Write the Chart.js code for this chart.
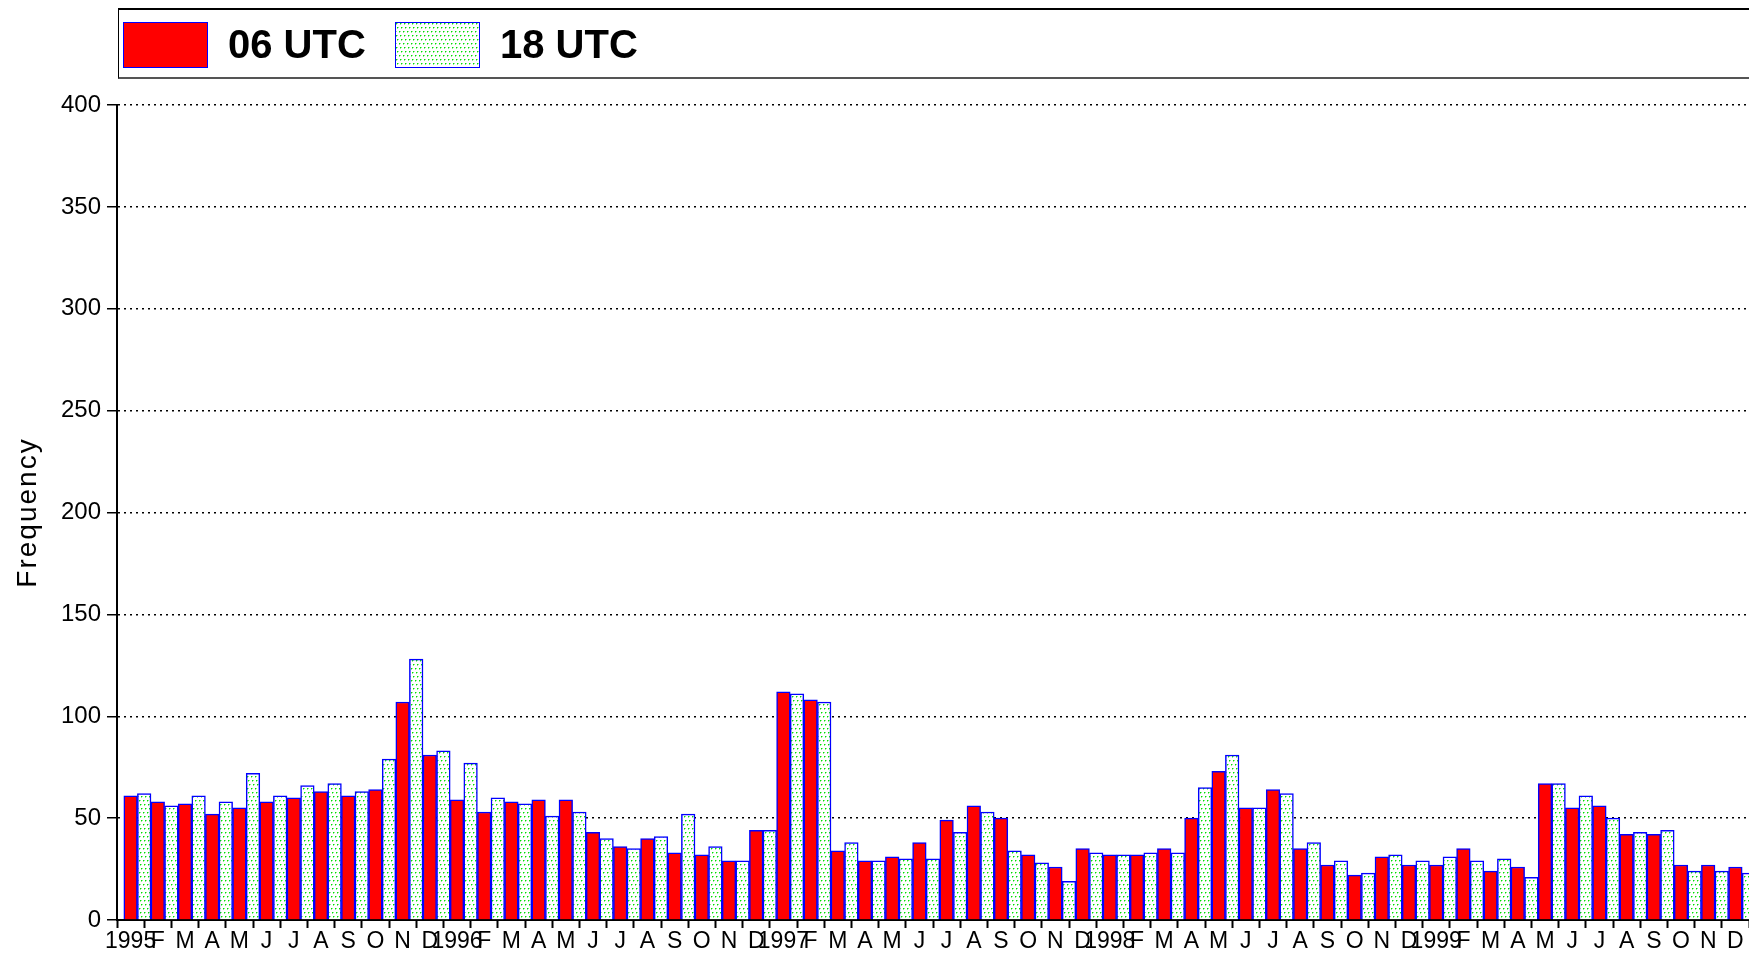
<!DOCTYPE html>
<html>
<head>
<meta charset="utf-8">
<title>06 / 18 UTC frequency</title>
<script src="https://cdn.jsdelivr.net/npm/chart.js@4/dist/chart.umd.min.js"></script>
<style>
  html, body { margin: 0; padding: 0; background: #fff; overflow: hidden; }
  #wrap { position: relative; width: 1749px; height: 956px; font-family: "Liberation Sans", Arial, sans-serif; }
  #chartBox { position: absolute; left: 0; top: 0; width: 1749px; height: 956px; }
  #legend {
    position: absolute; left: 118px; top: 8px; width: 1630px; height: 67px;
    border-top: 2px solid #000; border-left: 1.5px solid #000;
    border-bottom: 2.5px solid #555; border-right: 1px solid #ccc;
    box-sizing: content-box;
  }
  .item { position: absolute; top: 11px; height: 47px; display: flex; align-items: center; }
  .swatch { width: 83px; height: 44px; border: 1.5px solid #0000ff; margin-right: 20px; }
  .label { font-weight: bold; font-size: 40px; color: #000; line-height: 47px; }
</style>
</head>
<body>
<div id="wrap">
  <div id="chartBox"><canvas id="freqChart"></canvas></div>
  <div id="legend">
    <div class="item" style="left: 4px;"><span class="swatch" id="sw06"></span><span class="label">06 UTC</span></div>
    <div class="item" style="left: 276px;"><span class="swatch" id="sw18"></span><span class="label">18 UTC</span></div>
  </div>
</div>
<script>
// Data: monthly counts, Jan 1995 - Dec 1999
const years = [1995, 1996, 1997, 1998, 1999];
const monthInitials = ['J', 'F', 'M', 'A', 'M', 'J', 'J', 'A', 'S', 'O', 'N', 'D'];

const utc06 = [
    61, 58, 57, 52, 55, 58, 60, 63, 61, 64, 107, 81,
    59, 53, 58, 59, 59, 43, 36, 40, 33, 32, 29, 44,
    112, 108, 34, 29, 31, 38, 49, 56, 50, 32, 26, 35,
    32, 32, 35, 50, 73, 55, 64, 35, 27, 22, 31, 27,
    27, 35, 24, 26, 67, 55, 56, 42, 42, 27, 27, 26
];
const utc18 = [
    62, 56, 61, 58, 72, 61, 66, 67, 63, 79, 128, 83,
    77, 60, 57, 51, 53, 40, 35, 41, 52, 36, 29, 44,
    111, 107, 38, 29, 30, 30, 43, 53, 34, 28, 19, 33,
    32, 33, 33, 65, 81, 55, 62, 38, 29, 23, 32, 29,
    31, 29, 30, 21, 67, 61, 50, 43, 44, 24, 24, 23
];

const yTicks = [0, 50, 100, 150, 200, 250, 300, 350, 400];

// year at January, month initial otherwise
const xLabels = [];
years.forEach(y => monthInitials.forEach((m, i) => xLabels.push(i === 0 ? String(y) : m)));

// Half-month slots: even slots are month boundaries (tick marks, 18 UTC bars),
// odd slots are month centres (labels, 06 UTC bars).
const slotLabels = [''];
xLabels.forEach(l => slotLabels.push(l, ''));
const slots06 = slotLabels.map((_, k) => k % 2 === 1 ? utc06[(k - 1) / 2] : null);
const slots18 = slotLabels.map((_, k) => k > 0 && k % 2 === 0 ? utc18[k / 2 - 1] : null);

const FONT = '"Liberation Sans", Arial, sans-serif';

// green dotted fill for the 18 UTC bars
const tile = document.createElement('canvas');
tile.width = 4;
tile.height = 12;
const tctx = tile.getContext('2d');
tctx.fillStyle = '#fff';
tctx.fillRect(0, 0, 4, 12);
[[0, 0], [1, 4], [3, 8]].forEach(([x, y]) => {
    tctx.fillStyle = '#00e000';
    tctx.fillRect(x, y, 1, 1);
    tctx.fillStyle = '#8fef8f';
    tctx.fillRect((x + 1) % 4, y, 1, 1);
    tctx.fillRect(x, y + 1, 1, 1);
});

const ctx = document.getElementById('freqChart').getContext('2d');
const dots = ctx.createPattern(tile, 'repeat');

document.getElementById('sw06').style.background = '#ff0000';
document.getElementById('sw18').style.background = `url(${tile.toDataURL()})`;

// rotated, letter-spaced axis title
const yTitle = {
    id: 'yTitle',
    afterDraw(chart) {
        const c = chart.ctx;
        const area = chart.chartArea;
        c.save();
        c.translate(36, (area.top + area.bottom) / 2);
        c.rotate(-Math.PI / 2);
        c.font = '28px ' + FONT;
        c.letterSpacing = '2px';
        c.fillStyle = '#000';
        c.textAlign = 'center';
        c.fillText('Frequency', 0, 0);
        c.restore();
    }
};

new Chart(ctx, {
    type: 'bar',
    data: {
        labels: slotLabels,
        datasets: [{
            label: '06 UTC',
            data: slots06,
            backgroundColor: '#ff0000',
            borderColor: '#0000ff',
            borderWidth: 1.5,
            grouped: false,
            barThickness: 13.6
        }, {
            label: '18 UTC',
            data: slots18,
            backgroundColor: dots,
            borderColor: '#0000ff',
            borderWidth: 1.5,
            grouped: false,
            barThickness: 13.6
        }]
    },
    options: {
        responsive: true,
        maintainAspectRatio: false,
        animation: false,
        layout: { padding: { top: 105, left: 0, right: 0, bottom: 0 } },
        plugins: {
            legend: { display: false },
            tooltip: { enabled: false }
        },
        scales: {
            x: {
                type: 'category',
                offset: false,
                grid: {
                    offset: false,
                    drawOnChartArea: false,
                    tickLength: 8,
                    tickWidth: 2,
                    tickColor: c => c.index % 2 === 0 ? '#000' : 'rgba(0,0,0,0)'
                },
                border: { color: '#000', width: 2 },
                ticks: {
                    autoSkip: false, maxRotation: 0, minRotation: 0,
                    color: '#000', padding: 0,
                    font: { family: FONT, size: 23 }
                },
                afterFit: s => { s.height = 36; }
            },
            y: {
                min: yTicks[0],
                max: yTicks[yTicks.length - 1],
                afterBuildTicks: s => { s.ticks = yTicks.map(v => ({ value: v })); },
                grid: { color: '#000', lineWidth: 1.5, tickLength: 10, tickWidth: 1.5, tickColor: '#000' },
                border: { color: '#000', width: 2, dash: [2, 4] },
                ticks: { color: '#000', padding: 6, font: { family: FONT, size: 24 } },
                afterFit: s => { s.width = 117; }
            }
        }
    },
    plugins: [yTitle]
});
</script>
</body>
</html>
